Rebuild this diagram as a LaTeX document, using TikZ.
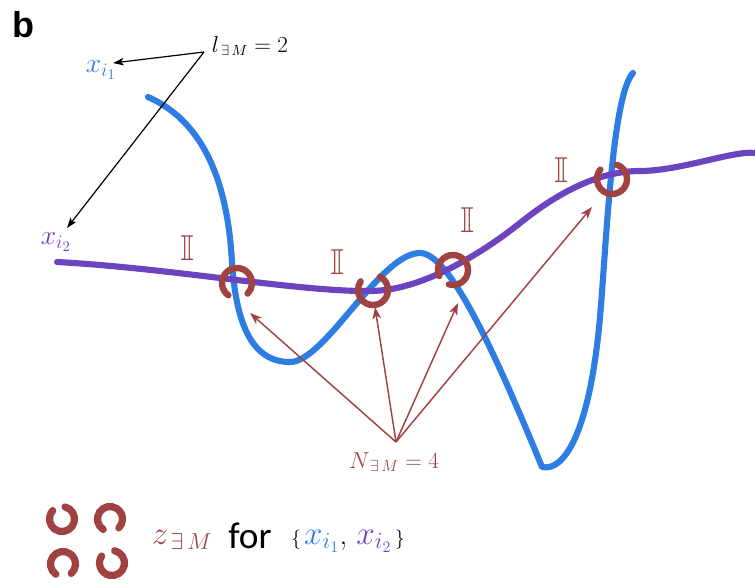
\documentclass[tikz,border=0pt]{standalone}
\usepackage{amssymb}
\usepackage{fontspec}
\newfontfamily\labelsans{Liberation Sans}
\newfontfamily\forfont{Carlito}
\usetikzlibrary{arrows.meta}
\definecolor{cblue}{RGB}{46,125,226}
\definecolor{cpurple}{RGB}{108,68,192}
\definecolor{cred}{RGB}{160,66,66}
\begin{document}
\begin{tikzpicture}[x=0.75pt,y=-0.75pt,
  curve/.style={line width=4.6pt, line cap=round, line join=round},
  ring/.style={cred, line width=4.8pt, line cap=round},
  lring/.style={cred, line width=5.4pt, line cap=round},
  redarrow/.style={cred, line width=1.1pt, -{Stealth[length=9pt,width=6.5pt,inset=2.5pt]}},
  blackarrow/.style={black, line width=0.9pt, -{Stealth[length=8pt,width=5.5pt,inset=2pt]}},
  ident/.style={text=cred, inner sep=0pt, font=\fontsize{27}{27}\selectfont},
  lbl/.style={inner sep=0pt},
]
\useasboundingbox (0,0) rectangle (755,583);

% panel letter
\node[lbl, font=\labelsans\bfseries\fontsize{27}{27}\selectfont] (panel) at (23,25) {b};

% blue curve
\draw[curve, cblue] (148,97) .. controls (205,122) and (228,185) .. (232,263)
  .. controls (236,320) and (250,362) .. (290,362)
  .. controls (325,362) and (380,253) .. (420,253)
  .. controls (448,253) and (490,340) .. (542,467)
  .. controls (565,472) and (590,430) .. (600,317)
  .. controls (606,250) and (612,95) .. (633,73);

% purple curve
\draw[curve, cpurple] (57,262) .. controls (170,268) and (300,292) .. (370,291)
  .. controls (420,291) and (480,255) .. (520,223)
  .. controls (560,191) and (600,171) .. (640,171)
  .. controls (680,171) and (735,150) .. (755,153);

% rings at crossings
\draw[ring] (237,283) ++(125:15) arc[start angle=125, end angle=405, radius=15];
\draw[ring] (373,290) ++(298:15) arc[start angle=298, end angle=575, radius=15];
\draw[ring] (453,270) ++(156:15) arc[start angle=156, end angle=466, radius=15];
\draw[ring] (612,179) ++(288:15) arc[start angle=288, end angle=579, radius=15];

% identity labels
\node[ident] (id1) at (187,248) {$\mathbb{I}$};
\node[ident] (id2) at (337,262) {$\mathbb{I}$};
\node[ident] (id3) at (467,220) {$\mathbb{I}$};
\node[ident] (id4) at (561,170) {$\mathbb{I}$};

% top labels
\node[lbl, font=\fontsize{16}{16}\selectfont] (lab) at (250,46) {$l_{\,\exists\, M}=2$};
\node[lbl, text=cblue, font=\fontsize{22}{22}\selectfont] (xone) at (101,70) {$x_{i_1}$};
\node[lbl, text=cpurple, font=\fontsize{22}{22}\selectfont] (xtwo) at (56,242) {$x_{i_2}$};
\coordinate (lsrc) at (204,52);
\coordinate (tipone) at (113,63);
\coordinate (tiptwo) at (67,228);
\draw[blackarrow] (lsrc) -- (tipone);
\draw[blackarrow] (lsrc) -- (tiptwo);

% N label and arrows
\node[lbl, text=cred, font=\fontsize{17}{17}\selectfont] (nlab) at (394,462) {$N_{\,\exists\, M}=4$};
\coordinate (nsrc) at (396,442);
\coordinate (ta) at (250,313);
\coordinate (tb) at (375,307);
\coordinate (tc) at (458,303);
\coordinate (td) at (592,207);
\draw[redarrow] (nsrc) -- (ta);
\draw[redarrow] (nsrc) -- (tb);
\draw[redarrow] (nsrc) -- (tc);
\draw[redarrow] (nsrc) -- (td);

% legend rings
\draw[lring] (62,519) ++(284:12.5) arc[start angle=284, end angle=582, radius=12.5];
\draw[lring] (110,519) ++(123:12.5) arc[start angle=123, end angle=405, radius=12.5];
\draw[lring] (63,564) ++(125:12.5) arc[start angle=125, end angle=409, radius=12.5];
\draw[lring] (112,563) ++(282:12.5) arc[start angle=282, end angle=574, radius=12.5];

% legend text
\node[lbl, text=cred, font=\fontsize{24}{24}\selectfont] (zlab) at (182,540) {$z_{\,\exists\, M}$};
\node[lbl, font=\forfont\fontsize{28}{28}\selectfont] (forlab) at (250,536) {for};
\node[lbl] (setlab) at (348,541) {\fontsize{15}{15}\selectfont$\{$\,\fontsize{23}{23}\selectfont\textcolor{cblue}{$x_{i_1}$}, \textcolor{cpurple}{$x_{i_2}$}\fontsize{15}{15}\selectfont\,$\}$};
\end{tikzpicture}
\end{document}
